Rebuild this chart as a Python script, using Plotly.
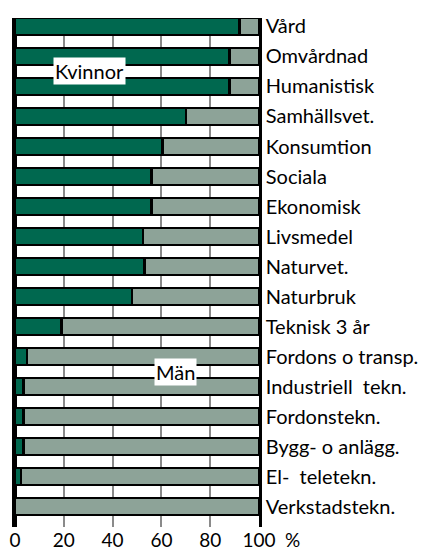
import plotly.graph_objects as go

categories = ["Vård", "Omvårdnad", "Humanistisk", "Samhällsvet.", "Konsumtion",
              "Sociala", "Ekonomisk", "Livsmedel", "Naturvet.", "Naturbruk",
              "Teknisk 3 år", "Fordons o transp.", "Industriell  tekn.", "Fordonstekn.",
              "Bygg- o anlägg.", "El-  teletekn.", "Verkstadstekn."]
kvinnor = [92, 88, 88, 70, 60.5, 56, 56, 52.5, 53, 48, 19, 5, 3.5, 3.5, 3.5, 2.5, 0]
man = [100 - v for v in kvinnor]
x_ticks = [0, 20, 40, 60, 80, 100]

GREEN = "#00684f"
GRAY = "#8da398"
FONT = "Lato"
FS = 20
XFS = 19

fig = go.Figure()
fig.add_trace(go.Bar(y=categories, x=kvinnor, orientation="h", name="Kvinnor",
                     marker=dict(color=GREEN, line=dict(color="black", width=2.5))))
fig.add_trace(go.Bar(y=categories, x=man, orientation="h", name="Män",
                     marker=dict(color=GRAY, line=dict(color="black", width=2.5))))

# page body has an 8px margin, so the figure is sized and placed to compensate
fig.update_layout(
    width=419, height=542,
    barmode="stack", bargap=0.433,
    showlegend=False,
    plot_bgcolor="white", paper_bgcolor="white",
    margin=dict(l=7, r=168, t=10, b=23, autoexpand=False),
    font=dict(family=FONT, size=FS, color="black"),
    xaxis=dict(range=[0, 100], tickvals=x_ticks, ticktext=[str(t) for t in x_ticks],
               showgrid=True, gridcolor="#8a8a8a", gridwidth=2,
               zeroline=True, zerolinecolor="black", zerolinewidth=2.5,
               showline=False, ticks="", ticklabelstandoff=0, automargin=False,
               tickfont=dict(family=FONT, size=XFS)),
    yaxis=dict(categoryorder="array", categoryarray=categories,
               range=[16.683, -0.283], side="right", automargin=False,
               showline=True, mirror=True, linecolor="black", linewidth=2.5,
               showgrid=False, zeroline=False, ticks="", ticklabelstandoff=0,
               tickfont=dict(family=FONT, size=FS)),
    annotations=[
        dict(x=30.7, y=1.5, xref="x", yref="y", text="Kvinnor", showarrow=False,
             bgcolor="white", font=dict(family=FONT, size=FS), borderpad=1),
        dict(x=65.6, y=11.53, xref="x", yref="y", text="Män", showarrow=False,
             bgcolor="white", font=dict(family=FONT, size=FS), borderpad=1),
        dict(x=1.139, y=-0.024, xref="paper", yref="paper", text="%", showarrow=False,
             xanchor="center", yanchor="middle", font=dict(family=FONT, size=XFS)),
    ],
)

fig.write_html("out.html")
